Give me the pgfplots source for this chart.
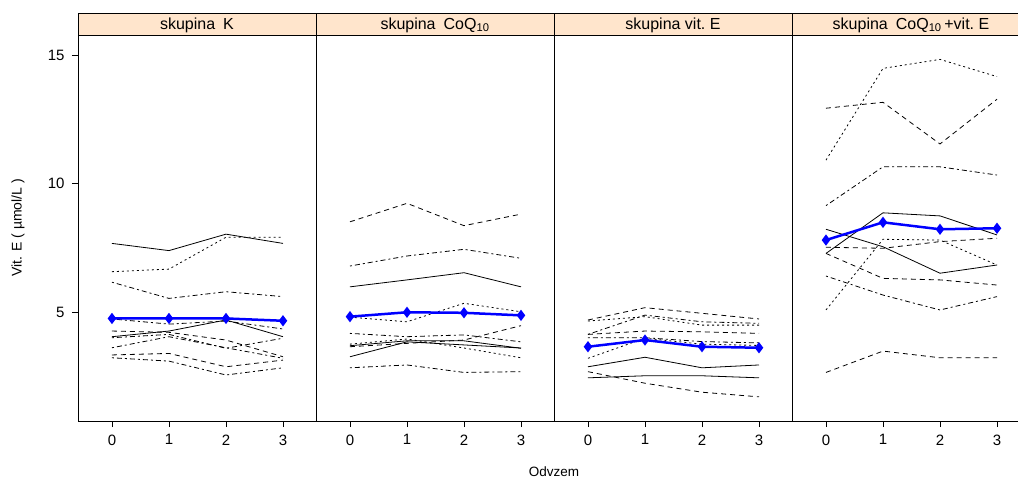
\documentclass[border=0pt]{standalone}
\usepackage{pgfplots}
\pgfplotsset{compat=1.18}
\usepackage{fontspec}
\setmainfont{Liberation Sans}
\definecolor{stripbg}{RGB}{255,229,204}
\definecolor{meanblue}{RGB}{0,0,255}

\pgfplotsset{
  panel/.style={
    scale only axis, width=238pt, height=385pt,
    xmin=-0.596, xmax=3.579, ymin=0.76, ymax=15.74,
    xtick={0,1,2,3}, ytick=\empty,
    xtick pos=left, ytick pos=left, tick align=outside,
    major tick length=6pt,
    every tick/.style={black, line width=0.8pt},
    axis line style={line width=1pt},
    /pgf/number format/assume math mode=true,
    tick label style={font=\fontsize{15}{17}\selectfont},
    xticklabel style={yshift=-4pt},
  },
  l1/.style={black, line width=0.8pt, mark=none, solid},
  l2/.style={black, line width=0.8pt, mark=none, dash pattern=on 5pt off 4pt},
  l3/.style={black, line width=0.8pt, mark=none, dash pattern=on 2pt off 3pt},
  l4/.style={black, line width=0.8pt, mark=none, dash pattern=on 2pt off 3pt on 5pt off 3pt},
  mean/.style={meanblue, line width=2.5pt, mark=diamond*, mark size=3.6pt, mark options={solid}},
}

\begin{document}
\begin{tikzpicture}
\useasboundingbox (0pt,0pt) rectangle (1018pt,-481pt);

% skupina K
\begin{axis}[panel, at={(78pt,-421pt)}, anchor=south west,
  ytick={5,10,15}, yticklabel style={xshift=-4pt}]
\addplot[l1] coordinates {(0,7.67)(1,7.39)(2,8.03)(3,7.67)};
\addplot[l3] coordinates {(0,6.57)(1,6.67)(2,7.91)(3,7.91)};
\addplot[l4] coordinates {(0,6.16)(1,5.53)(2,5.79)(3,5.60)};
\addplot[l4] coordinates {(0,4.73)(1,4.53)(2,4.65)(3,4.34)};
\addplot[l1] coordinates {(0,4.04)(1,4.26)(2,4.69)(3,4.04)};
\addplot[l2] coordinates {(0,4.26)(1,4.21)(2,3.91)(3,3.26)};
\addplot[l4] coordinates {(0,4.00)(1,4.13)(2,3.59)(3,3.98)};
\addplot[l4] coordinates {(0,3.61)(1,4.04)(2,3.61)(3,3.20)};
\addplot[l2] coordinates {(0,3.33)(1,3.39)(2,2.87)(3,3.13)};
\addplot[l4] coordinates {(0,3.22)(1,3.09)(2,2.55)(3,2.83)};
\addplot[mean] coordinates {(0,4.75)(1,4.75)(2,4.75)(3,4.66)};
\end{axis}

% skupina CoQ10
\begin{axis}[panel, at={(316pt,-421pt)}, anchor=south west]
\addplot[l2] coordinates {(0,8.51)(1,9.23)(2,8.36)(3,8.81)};
\addplot[l4] coordinates {(0,6.79)(1,7.18)(2,7.44)(3,7.09)};
\addplot[l1] coordinates {(0,5.98)(1,6.25)(2,6.53)(3,5.98)};
\addplot[l3] coordinates {(0,4.80)(1,4.62)(2,5.34)(3,5.01)};
\addplot[l4] coordinates {(0,4.17)(1,4.04)(2,4.11)(3,3.84)};
\addplot[l2] coordinates {(0,3.65)(1,3.78)(2,3.91)(3,4.47)};
\addplot[l1] coordinates {(0,3.69)(1,3.88)(2,3.88)(3,3.59)};
\addplot[l1] coordinates {(0,3.26)(1,3.84)(2,3.72)(3,3.60)};
\addplot[l3] coordinates {(0,3.75)(1,3.95)(2,3.60)(3,3.22)};
\addplot[l4] coordinates {(0,2.83)(1,2.94)(2,2.65)(3,2.68)};
\addplot[mean] coordinates {(0,4.82)(1,4.99)(2,4.97)(3,4.87)};
\end{axis}

% skupina vit. E
\begin{axis}[panel, at={(554pt,-421pt)}, anchor=south west]
\addplot[l2] coordinates {(0,4.69)(1,5.17)(2,4.95)(3,4.73)};
\addplot[l3] coordinates {(0,4.65)(1,4.82)(2,4.49)(3,4.49)};
\addplot[l4] coordinates {(0,4.13)(1,4.88)(2,4.62)(3,4.56)};
\addplot[l2] coordinates {(0,4.13)(1,4.26)(2,4.23)(3,4.17)};
\addplot[l4] coordinates {(0,4.00)(1,4.00)(2,3.85)(3,3.80)};
\addplot[l3] coordinates {(0,3.20)(1,3.98)(2,3.75)(3,3.70)};
\addplot[l1] coordinates {(0,2.87)(1,3.24)(2,2.83)(3,2.94)};
\addplot[l1] coordinates {(0,2.44)(1,2.52)(2,2.52)(3,2.44)};
\addplot[l2] coordinates {(0,2.68)(1,2.23)(2,1.88)(3,1.70)};
\addplot[mean] coordinates {(0,3.65)(1,3.91)(2,3.65)(3,3.61)};
\end{axis}

% skupina CoQ10 + vit. E
\begin{axis}[panel, at={(792pt,-421pt)}, anchor=south west]
\addplot[l3] coordinates {(0,10.91)(1,14.48)(2,14.83)(3,14.16)};
\addplot[l2] coordinates {(0,12.93)(1,13.16)(2,11.54)(3,13.28)};
\addplot[l4] coordinates {(0,9.14)(1,10.65)(2,10.65)(3,10.33)};
\addplot[l1] coordinates {(0,7.28)(1,8.86)(2,8.74)(3,8.00)};
\addplot[l1] coordinates {(0,8.22)(1,7.54)(2,6.51)(3,6.83)};
\addplot[l2] coordinates {(0,7.52)(1,7.48)(2,7.74)(3,7.87)};
\addplot[l3] coordinates {(0,5.08)(1,7.83)(2,7.80)(3,6.83)};
\addplot[l2] coordinates {(0,7.28)(1,6.31)(2,6.25)(3,6.05)};
\addplot[l4] coordinates {(0,6.40)(1,5.66)(2,5.08)(3,5.60)};
\addplot[l2] coordinates {(0,2.65)(1,3.48)(2,3.22)(3,3.22)};
\addplot[mean] coordinates {(0,7.80)(1,8.49)(2,8.22)(3,8.26)};
\end{axis}

% strips
\foreach \i/\t in {0/{skupina\enspace K},1/{skupina\enspace CoQ\textsubscript{10}},2/{skupina vit.\ E},3/{skupina\enspace CoQ\textsubscript{10}\,+vit.\ E}}{
  \draw[fill=stripbg, line width=1pt] ({78pt+238pt*\i},-36pt) rectangle ({316pt+238pt*\i},-14pt);
  \node[font=\fontsize{16}{18}\selectfont, inner sep=0pt] at ({197pt+238pt*\i},-25pt) {\t};
}

\node[rotate=90, font=\fontsize{14}{16}\selectfont] at (18pt,-228pt) {Vit. E ( µmol/L )};
\node[font=\fontsize{13.5}{15}\selectfont, inner sep=0pt] at (554pt,-472pt) {Odvzem};
\end{tikzpicture}
\end{document}
